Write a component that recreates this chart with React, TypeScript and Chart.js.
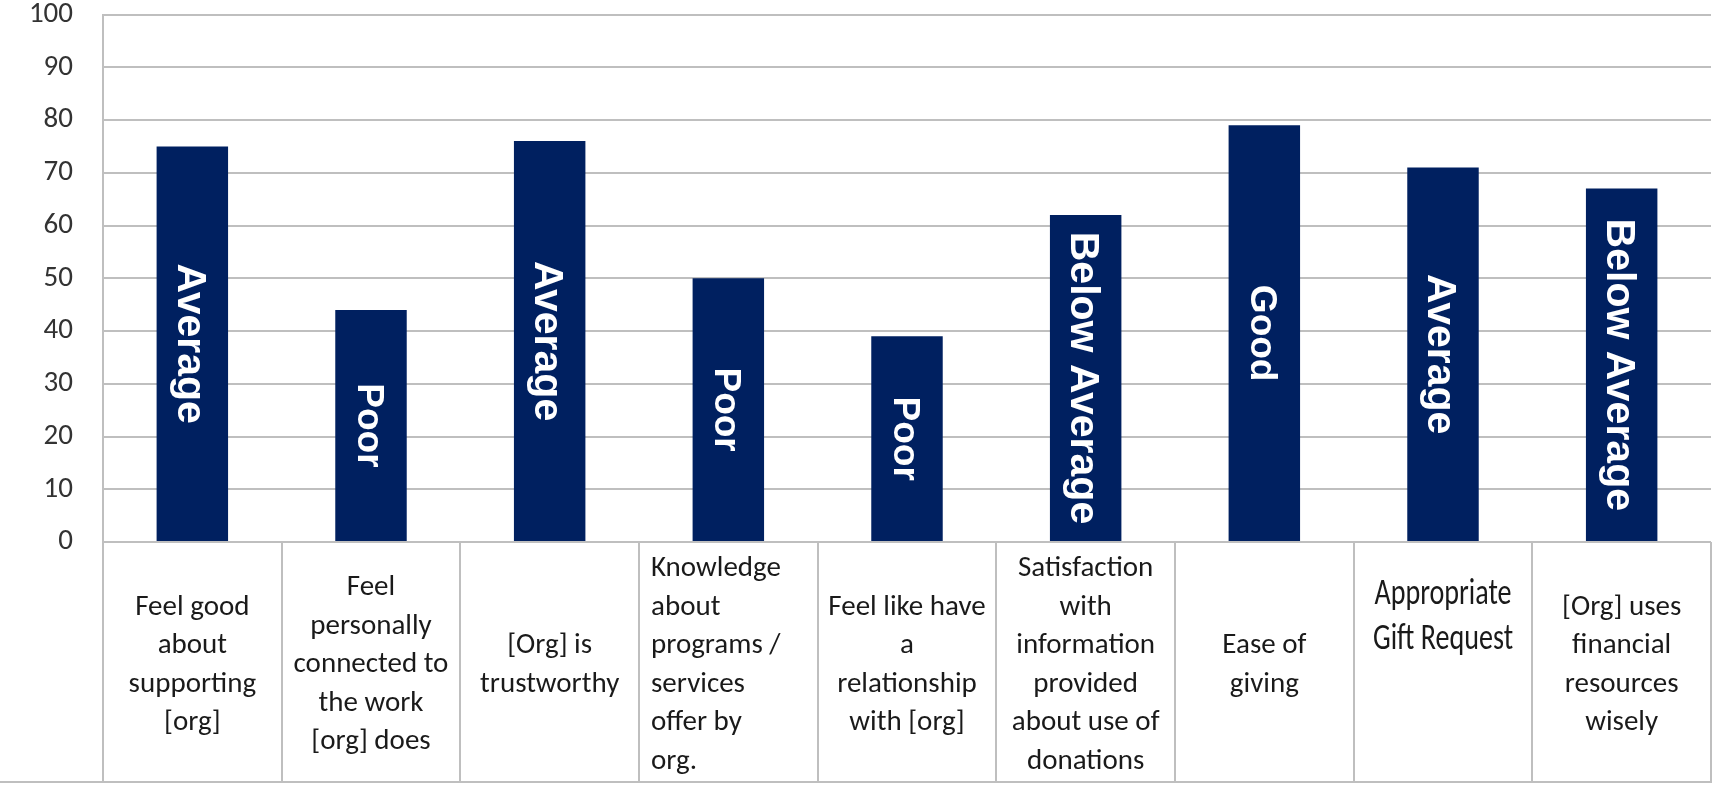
import React, { useEffect, useRef } from "react";
import { Chart, registerables } from "chart.js";

Chart.register(...registerables);

// ---- data ----
const categories: string[][] = [
  ["Feel good", "about", "supporting", "[org]"],
  ["Feel", "personally", "connected to", "the work", "[org] does"],
  ["[Org] is", "trustworthy"],
  ["Knowledge", "about", "programs /", "services", "offer by", "org."],
  ["Feel like have", "a", "relationship", "with [org]"],
  ["Satisfaction", "with", "information", "provided", "about use of", "donations"],
  ["Ease of", "giving"],
  ["Appropriate", "Gift Request"],
  ["[Org] uses", "financial", "resources", "wisely"],
];
const scores: number[] = [75, 44, 76, 50, 39, 62, 79, 71, 67];
const ratings: string[] = [
  "Average",
  "Poor",
  "Average",
  "Poor",
  "Poor",
  "Below Average",
  "Good",
  "Average",
  "Below Average",
];
const yMin = 0;
const yMax = 100;
const yStep = 10;

// ---- styles (kept apart from data) ----
const BAR_COLOR = "#002060";
const GRID_COLOR = "#BFBFBF";
const TABLE_HEIGHT = 240;
const FONT_FAMILY = 'Carlito, Lato, "Liberation Sans", sans-serif';
const labelAlign: string[] = ["center", "center", "center", "left", "center", "center", "center", "center", "center"];
const labelCondensed: boolean[] = [false, false, false, false, false, false, false, true, false];
const LABEL_FONT = `29px ${FONT_FAMILY}`;
const LABEL_LH = 38.5;
const ratingFontSize: Record<string, number> = {
  Average: 41,
  "Below Average": 41,
  Poor: 37,
  Good: 37,
};

const barTextPlugin = {
  id: "barText",
  afterDatasetsDraw(chart: any) {
    const ctx = chart.ctx;
    const meta = chart.getDatasetMeta(0);
    meta.data.forEach((bar: any, i: number) => {
      const size = ratingFontSize[ratings[i]] || 39;
      const p = bar.getProps(["x", "y", "base"], true);
      ctx.save();
      ctx.translate(p.x, (p.y + p.base) / 2);
      ctx.rotate(Math.PI / 2);
      ctx.fillStyle = "#ffffff";
      ctx.font = `bold ${size}px "Liberation Sans", Arial, sans-serif`;
      ctx.textAlign = "center";
      ctx.textBaseline = "alphabetic";
      ctx.fillText(ratings[i], 0, (size * 0.716) / 2);
      ctx.restore();
    });
  },
};

const tablePlugin = {
  id: "tableLabels",
  afterDraw(chart: any) {
    const ctx = chart.ctx;
    const xs = chart.scales.x;
    const area = chart.chartArea;
    const top = area.bottom;
    const bottom = area.bottom + TABLE_HEIGHT;
    const cellW = xs.getPixelForValue(1) - xs.getPixelForValue(0);
    ctx.save();
    // bottom rule of the table
    ctx.strokeStyle = GRID_COLOR;
    ctx.lineWidth = 2;
    ctx.beginPath();
    ctx.moveTo(0, bottom);
    ctx.lineTo(chart.width, bottom);
    ctx.stroke();

    ctx.fillStyle = "#1a1a1a";
    ctx.textBaseline = "middle";
    categories.forEach((lines, i) => {
      const cx = xs.getPixelForValue(i);
      const left = cx - cellW / 2;
      if (labelCondensed[i]) {
        const lh = 45;
        const cy = top + 75;
        ctx.save();
        ctx.translate(cx, cy);
        ctx.scale(0.78, 1);
        ctx.font = `36px ${FONT_FAMILY}`;
        ctx.textAlign = "center";
        lines.forEach((ln, j) => {
          ctx.fillText(ln, 0, (j - (lines.length - 1) / 2) * lh);
        });
        ctx.restore();
        return;
      }
      const cy = (top + bottom) / 2 + 3;
      ctx.font = LABEL_FONT;
      ctx.textAlign = labelAlign[i] === "left" ? "left" : "center";
      const tx = labelAlign[i] === "left" ? left + 12 : cx;
      lines.forEach((ln, j) => {
        ctx.fillText(ln, tx, cy + (j - (lines.length - 1) / 2) * LABEL_LH);
      });
    });
    ctx.restore();
  },
};

export default function App() {
  const ref = useRef<HTMLCanvasElement>(null);
  useEffect(() => {
    document.body.style.margin = "0";
    const chart = new Chart(ref.current as HTMLCanvasElement, {
      type: "bar",
      data: {
        labels: categories.map((c) => c.join(" ")),
        datasets: [
          {
            data: scores,
            backgroundColor: BAR_COLOR,
            borderWidth: 0,
            barPercentage: 0.4,
            categoryPercentage: 1.0,
          },
        ],
      },
      options: {
        responsive: false,
        animation: false,
        devicePixelRatio: 1,
        layout: { padding: { top: 14, right: 1, bottom: 6, left: 0 } },
        plugins: {
          legend: { display: false },
          tooltip: { enabled: false },
          title: { display: false },
        },
        scales: {
          x: {
            offset: true,
            ticks: { display: false },
            grid: {
              offset: true,
              drawOnChartArea: false,
              drawTicks: true,
              tickLength: TABLE_HEIGHT,
              color: GRID_COLOR,
              lineWidth: 2,
            },
            border: { display: false },
            afterFit: (s: any) => {
              s.height = TABLE_HEIGHT;
            },
          },
          y: {
            min: yMin,
            max: yMax,
            ticks: {
              stepSize: yStep,
              padding: 0,
              color: "#333333",
              font: { family: FONT_FAMILY, size: 29, lineHeight: 1 },
            },
            grid: {
              color: GRID_COLOR,
              lineWidth: 2,
              drawTicks: true,
              tickLength: 30,
              tickColor: "rgba(0,0,0,0)",
            },
            border: { display: true, color: GRID_COLOR, width: 2 },
            afterFit: (s: any) => {
              s.width = 103;
            },
          },
        },
      },
      plugins: [barTextPlugin, tablePlugin],
    });
    return () => chart.destroy();
  }, []);
  return (
    <div style={{ position: "absolute", left: 0, top: 0, width: 1712, height: 788, background: "#fff" }}>
      <canvas ref={ref} width={1712} height={788} style={{ display: "block" }} />
    </div>
  );
}
